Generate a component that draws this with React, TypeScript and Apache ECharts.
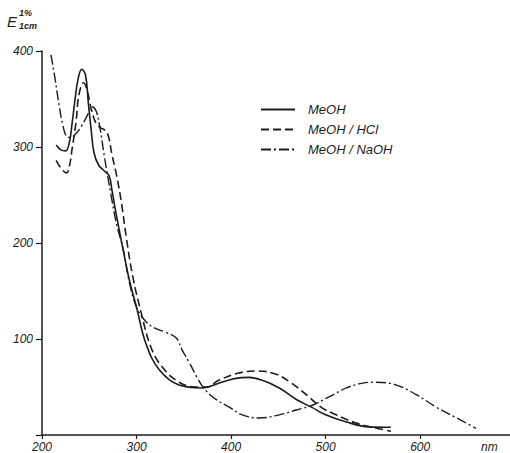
import React, { useEffect, useRef } from "react";
import * as echarts from "echarts";

// Wavelength (nm) / E(1%, 1cm)
const meohNm = [215, 220, 225, 229, 232, 235, 238, 242, 246, 249, 252, 255, 260, 266, 271, 274, 277, 281, 286, 292, 300, 310, 324, 345, 369, 387, 405, 419, 433, 451, 469, 485, 500, 522, 546, 569];
const meohE = [302, 297, 296, 305, 326, 350, 370, 381, 375, 346, 318, 294, 281, 275, 270, 255, 238, 217, 192, 163, 133, 95, 68, 52, 49, 54, 59, 60, 57, 49, 37, 29, 21, 13.5, 8.5, 8];

const hclNm = [215, 220, 226, 229, 232, 236, 239, 244, 248, 252, 257, 262, 266, 270, 274, 279, 284, 289, 296, 305, 315, 327, 345, 363, 374, 387, 408, 427, 447, 464, 482, 495, 511, 532, 553, 569];
const hclE = [286, 278, 273, 280, 299, 326, 354, 367, 358, 340, 325, 320, 318, 312, 292, 270, 242, 207, 165, 127, 92, 71, 55, 50, 50, 57, 64.5, 66.7, 63.5, 54, 40, 29, 21, 12.5, 7.3, 4];

const naohNm = [209.5, 214, 218, 222, 226, 230, 236, 242, 248, 253, 257, 261, 266, 273, 279, 286, 292, 300, 310, 320, 331, 342, 348, 356, 364, 371, 382, 398, 412, 430, 451, 469, 486, 504, 522, 539, 553, 575, 596, 617, 638, 659];
const naohE = [396, 370, 344, 323, 311, 310, 314, 322, 333, 342, 338, 322, 290, 250, 219, 193, 161, 133, 118, 111, 107, 101, 89, 75, 60, 49, 38.5, 29, 21, 17.7, 21, 26, 31, 40, 49, 54, 55, 52, 42, 29, 18, 7];

const seriesNames = ["MeOH", "MeOH / HCl", "MeOH / NaOH"];

const zip = (xs: number[], ys: number[]) => xs.map((x, i) => [x, ys[i]]);

const INK = "#1c1c1c";
const FONT = "Liberation Sans";

export default function App() {
  const ref = useRef<HTMLDivElement>(null);
  useEffect(() => {
    if (!ref.current) return;
    const chart = echarts.init(ref.current, undefined, { renderer: "svg" });
    const lineBase = { type: "line", smooth: 0.4, symbol: "none", showSymbol: false };
    chart.setOption({
      animation: false,
      backgroundColor: "#fff",
      grid: { left: 42, right: 0, top: 51, bottom: 18, containLabel: false, outerBoundsMode: "none" },
      legend: {
        orient: "vertical",
        left: 255,
        top: 98,
        itemWidth: 34,
        itemHeight: 14,
        itemGap: 7,
        itemStyle: { opacity: 0 },
        textStyle: { fontFamily: FONT, fontStyle: "italic", fontSize: 13, color: INK, padding: [0, 0, 0, 8] },
        data: seriesNames,
      },
      xAxis: {
        type: "value",
        min: 200,
        max: 695,
        interval: 100,
        splitLine: { show: false },
        axisLine: { show: true, lineStyle: { color: INK, width: 1.5 } },
        axisTick: { show: true, length: 4, inside: false, lineStyle: { color: INK, width: 1.2 } },
        axisLabel: {
          margin: 6,
          fontFamily: FONT,
          fontStyle: "italic",
          fontSize: 12,
          color: INK,
          showMaxLabel: false,
          formatter: (v: number) => (v % 100 === 0 ? String(v) : ""),
        },
      },
      yAxis: {
        type: "value",
        min: 0,
        max: 400,
        interval: 100,
        splitLine: { show: false },
        axisLine: { show: true, lineStyle: { color: INK, width: 1.5 } },
        axisTick: { show: true, length: 6, lineStyle: { color: INK, width: 1.2 } },
        axisLabel: {
          margin: 9,
          fontFamily: FONT,
          fontStyle: "italic",
          fontSize: 12,
          color: INK,
          formatter: (v: number) => (v === 0 ? "" : String(v)),
        },
      },
      graphic: [
        { type: "text", left: 7, top: 14, style: { text: "E", fontFamily: FONT, fontStyle: "italic", fontSize: 15, fill: INK } },
        { type: "text", left: 19, top: 8, style: { text: "1%", fontFamily: FONT, fontStyle: "italic", fontWeight: "bold", fontSize: 9, fill: INK } },
        { type: "text", left: 19, top: 21, style: { text: "1cm", fontFamily: FONT, fontStyle: "italic", fontWeight: "bold", fontSize: 9, fill: INK } },
        { type: "text", left: 481, top: 441, style: { text: "nm", fontFamily: FONT, fontStyle: "italic", fontSize: 12, fill: INK } },
      ],
      series: [
        {
          ...lineBase,
          name: seriesNames[0],
          data: zip(meohNm, meohE),
          lineStyle: { color: INK, width: 1.6, type: "solid" },
          itemStyle: { color: INK },
        },
        {
          ...lineBase,
          name: seriesNames[1],
          data: zip(hclNm, hclE),
          lineStyle: { color: INK, width: 1.6, type: [8, 4] },
          itemStyle: { color: INK },
        },
        {
          ...lineBase,
          name: seriesNames[2],
          data: zip(naohNm, naohE),
          lineStyle: { color: INK, width: 1.4, type: [10, 3, 2, 3] },
          itemStyle: { color: INK },
        },
      ],
    });
    return () => chart.dispose();
  }, []);
  return <div ref={ref} style={{ width: 510, height: 453, position: "absolute", left: 0, top: 0 }} />;
}
